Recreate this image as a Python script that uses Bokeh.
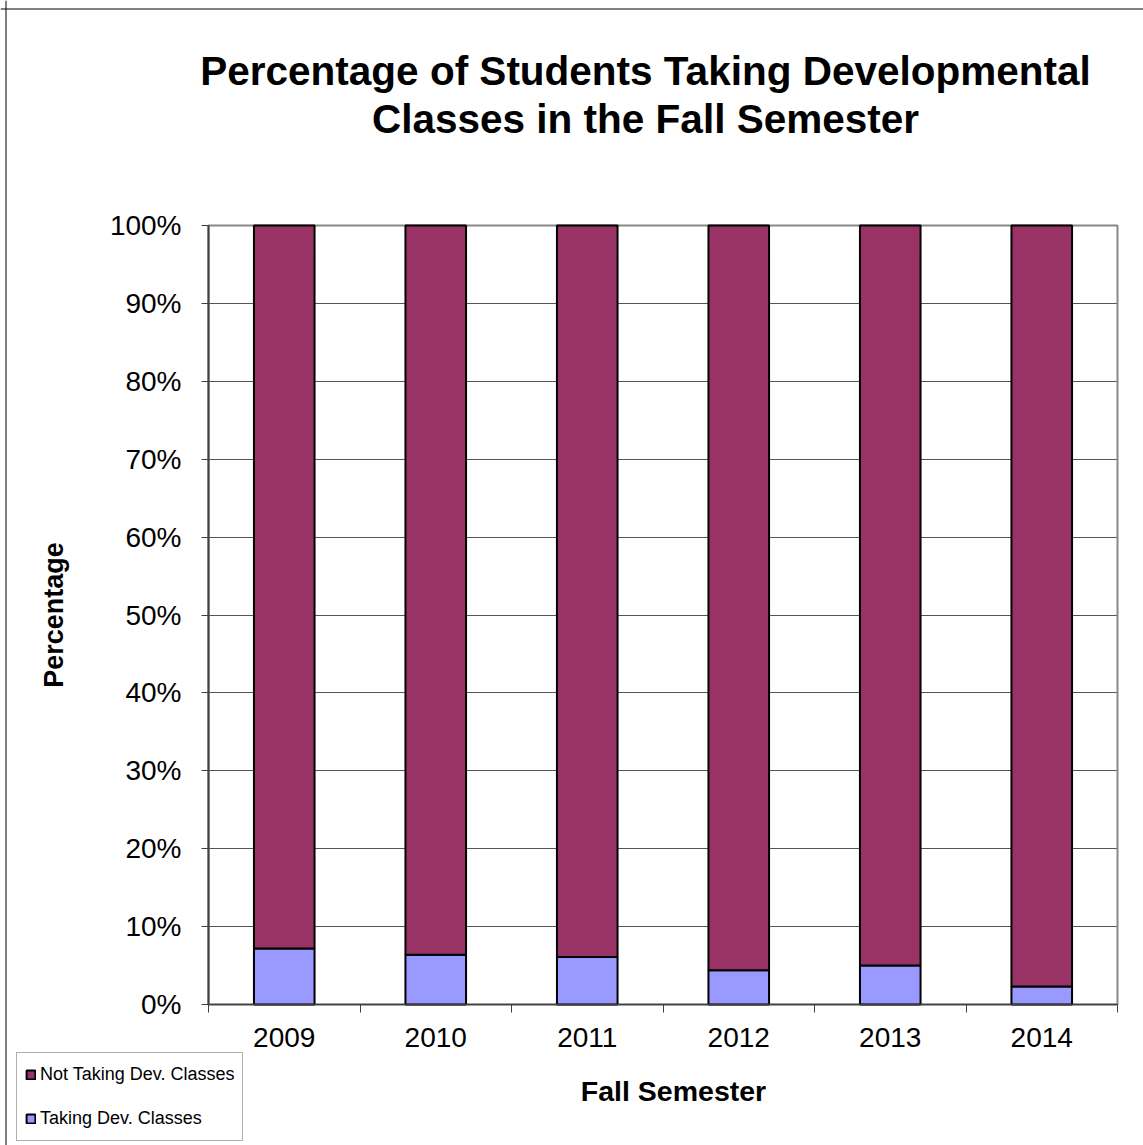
from bokeh.plotting import figure
from bokeh.models import (ColumnDataSource, FixedTicker, CustomJSTickFormatter,
                          PrintfTickFormatter, Legend, LegendItem, Label, Range1d, Span)
from bokeh.embed import file_html
from bokeh.resources import INLINE

# ---- data ----
years = ["2009", "2010", "2011", "2012", "2013", "2014"]
taking = [7.2, 6.4, 6.1, 4.4, 5.0, 2.3]
not_taking = [92.8, 93.6, 93.9, 95.6, 95.0, 97.7]
series_names = ["Taking Dev. Classes", "Not Taking Dev. Classes"]
series_colors = ["#9999FF", "#993366"]
y_ticks = [0, 10, 20, 30, 40, 50, 60, 70, 80, 90, 100]
title_lines = ["Percentage of Students Taking Developmental",
               "Classes in the Fall Semester"]
x_title = "Fall Semester"
y_title = "Percentage"

n = len(years)
xpos = [i + 0.5 for i in range(n)]
source = ColumnDataSource(dict(x=xpos, years=years, taking=taking, not_taking=not_taking))

FONT = "Liberation Sans"
W, H = 1143, 1145
# plot area in canvas pixels
PL, PR, PT, PB = 208, 1117, 225, 1004
xs = (PR - PL) / n
ys = (PB - PT) / 100.0

p = figure(width=W, height=H, output_backend="svg", toolbar_location=None,
           x_range=Range1d(-PL / xs, n + (W - PR) / xs),
           y_range=Range1d(-(H - PB) / ys, 100 + PT / ys),
           min_border=0)
p.background_fill_color = "white"
p.border_fill_color = "white"
p.outline_line_color = None

# plot-area border (gray)
p.quad(left=0, right=n, bottom=0, top=100, fill_color=None,
       line_color="#888888", line_width=2)

# grid
g = p.ygrid[0]
g.ticker = FixedTicker(ticks=y_ticks)
if "cross_bounds" in g.properties():
    g.cross_bounds = (0, n)
    g.grid_line_color = "#555555"
    g.grid_line_width = 1
else:
    g.visible = False
    p.segment(x0=0, x1=n, y0=y_ticks, y1=y_ticks, line_color="#555555", line_width=1)
p.xgrid.visible = False

renderers = p.vbar_stack(["taking", "not_taking"], x="x", width=0.4, source=source,
                         fill_color=series_colors, line_color="black", line_width=2)

# axes (fixed in the frame)
xa = p.xaxis[0]
xa.fixed_location = 0
xa.bounds = (0, n)
xa.ticker = FixedTicker(ticks=xpos, minor_ticks=list(range(n + 1)))
xa.formatter = CustomJSTickFormatter(args=dict(labels=years),
                                     code="return labels[Math.round(tick - 0.5)];")
xa.major_tick_out = 0
xa.major_tick_in = 0
xa.minor_tick_out = 8
xa.minor_tick_in = 0
xa.minor_tick_line_color = "#404040"
xa.axis_line_color = "#404040"
xa.axis_line_width = 1.5
xa.major_label_standoff = 15
xa.major_label_text_font = FONT
xa.major_label_text_font_size = "28px"
xa.major_label_text_color = "black"

ya = p.yaxis[0]
ya.fixed_location = 0
ya.bounds = (0, 100)
ya.ticker = FixedTicker(ticks=y_ticks)
ya.formatter = PrintfTickFormatter(format="%d%%")
ya.major_tick_out = 7
ya.major_tick_in = 0
ya.minor_tick_out = 0
ya.minor_tick_in = 0
ya.major_tick_line_color = "#404040"
ya.axis_line_color = "#404040"
ya.axis_line_width = 2
ya.major_label_standoff = 20
ya.major_label_text_font = FONT
ya.major_label_text_font_size = "28px"
ya.major_label_text_color = "black"
ya.axis_label = y_title
ya.axis_label_text_font = FONT
ya.axis_label_text_font_style = "bold"
ya.axis_label_text_font_size = "27px"
ya.axis_label_text_color = "black"
ya.axis_label_standoff = 38

# x axis title
p.add_layout(Label(x=673, y=H - 1090, x_units="screen", y_units="screen", text=x_title,
                   text_align="center", text_baseline="alphabetic",
                   text_font=FONT, text_font_style="bold",
                   text_font_size="28.5px", text_color="black"))

# title
for txt, yb in zip(title_lines, [70, 118]):
    p.add_layout(Label(x=645, y=H - yb, x_units="screen", y_units="screen", text=txt,
                       text_align="center", text_baseline="alphabetic",
                       text_font=FONT, text_font_style="bold",
                       text_font_size="40.5px", text_color="black"))

# chart border (left and top only visible)
p.add_layout(Span(location=5.5, location_units="screen", dimension="height",
                  line_color="black", line_width=1))
p.add_layout(Span(location=H - 8.5, location_units="screen", dimension="width",
                  line_color="black", line_width=1))

# legend
legend = Legend(items=[LegendItem(label=series_names[1], renderers=[renderers[1]]),
                       LegendItem(label=series_names[0], renderers=[renderers[0]])],
                location=(16, 4))
legend.padding = 8
legend.margin = 0
legend.spacing = 17
legend.label_height = 27
legend.glyph_height = 11
legend.glyph_width = 11
legend.label_standoff = 4
legend.label_text_font = FONT
legend.label_text_font_size = "18px"
legend.label_text_color = "black"
legend.border_line_color = "#606060"
legend.border_line_width = 1
legend.background_fill_color = "white"
legend.background_fill_alpha = 1
p.add_layout(legend, "center")

open("out.html", "w").write(file_html(p, INLINE))
